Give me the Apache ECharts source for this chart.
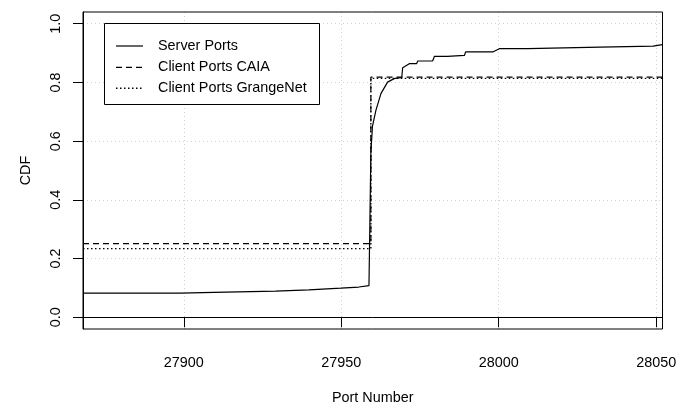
<!DOCTYPE html>
<html>
<head>
<meta charset="utf-8">
<script src="https://cdn.jsdelivr.net/npm/echarts@6/dist/echarts.min.js"></script>
<style>html,body{margin:0;padding:0;background:#fff;}#c{width:691px;height:410px;}</style>
</head>
<body>
<div id="c"></div>
<script>
// ---- data ----
const seriesNames = ['Server Ports', 'Client Ports CAIA', 'Client Ports GrangeNet'];
const xTicks = [27900, 27950, 28000, 28050];
const yTicks = [0, 0.2, 0.4, 0.6, 0.8, 1.0];
const xRange = [27868, 28052];
const yRange = [-0.04, 1.04];
const serverPorts = [
  [27868, 0.082], [27898.9, 0.082], [27899.2, 0.085], [27909.5, 0.085], [27909.8, 0.089],
  [27929.1, 0.089], [27929.4, 0.093], [27939.7, 0.093], [27940.0, 0.099], [27949.8, 0.099],
  [27950.1, 0.103], [27955.6, 0.103], [27955.9, 0.108], [27958.8, 0.108], [27959.1, 0.33],
  [27959.4, 0.56], [27959.9, 0.65], [27961.0, 0.705], [27962.6, 0.762], [27964.7, 0.801],
  [27966.8, 0.813], [27969.2, 0.817], [27969.5, 0.85], [27971.6, 0.864], [27973.9, 0.864],
  [27974.3, 0.873], [27979.0, 0.873], [27979.6, 0.889], [27983.7, 0.889], [27984.0, 0.892],
  [27989.1, 0.892], [27989.5, 0.904], [27998.1, 0.904], [28000.2, 0.915], [28009.2, 0.915],
  [28009.6, 0.920], [28032.2, 0.920], [28032.6, 0.924], [28049.0, 0.924], [28049.4, 0.929],
  [28052, 0.929]
];
const clientCAIA = [[27868, 0.251], [27959.4, 0.251], [27959.4, 0.818], [28052, 0.818]];
const clientGrangeNet = [[27868, 0.234], [27959.4, 0.234], [27959.4, 0.814], [28052, 0.814]];

// ---- chart ----
const FONT = '"Liberation Sans", Arial, sans-serif';
const FS = 14.4;
const chart = echarts.init(document.getElementById('c'), null, {renderer: 'canvas'});
const lineStyles = [
  {color: '#000', width: 1.2, type: 'solid'},
  {color: '#000', width: 1.2, type: [6, 4]},
  {color: '#000', width: 1.4, type: [1.5, 2.5]}
];
const datasets = [serverPorts, clientCAIA, clientGrangeNet];
const legendY = [46, 67.3, 88.3];
const graphics = [{
  type: 'rect', shape: {x: 104.5, y: 23.5, width: 215, height: 81},
  style: {fill: '#fff', stroke: '#000', lineWidth: 1}, z: 100
}];
seriesNames.forEach((n, i) => {
  graphics.push({
    type: 'line', shape: {x1: 116, y1: legendY[i], x2: 143, y2: legendY[i]},
    style: {stroke: '#000', lineWidth: lineStyles[i].width, lineDash: i === 0 ? null : lineStyles[i].type}, z: 101
  });
  graphics.push({
    type: 'text', x: 158, y: legendY[i],
    style: {text: n, font: FS + 'px ' + FONT, fill: '#000', textVerticalAlign: 'middle', textAlign: 'left'}, z: 101
  });
});

chart.setOption({
  animation: false,
  backgroundColor: '#fff',
  grid: {left: 83, right: 28.5, top: 12, bottom: 81, show: true, borderColor: '#000', borderWidth: 1, backgroundColor: 'transparent', z: 10},
  xAxis: {
    type: 'value', min: xRange[0], max: xRange[1], interval: 50,
    name: 'Port Number', nameLocation: 'middle', nameGap: 62,
    nameTextStyle: {fontFamily: FONT, fontSize: FS, color: '#000'},
    axisLine: {show: true, lineStyle: {color: '#000', width: 1}},
    axisTick: {show: true, length: 10, lineStyle: {color: '#000'}, customValues: xTicks},
    axisLabel: {customValues: xTicks, margin: 27, fontFamily: FONT, fontSize: FS, color: '#000', formatter: v => String(v)},
    splitLine: {show: true, lineStyle: {color: '#d0d0d0', type: [1, 3], width: 1}}
  },
  yAxis: {
    type: 'value', min: yRange[0], max: yRange[1], interval: 0.2,
    name: 'CDF', nameLocation: 'middle', nameGap: 50, nameRotate: 90,
    nameTextStyle: {fontFamily: FONT, fontSize: FS, color: '#000'},
    axisLine: {show: true, lineStyle: {color: '#000', width: 1}},
    axisTick: {show: true, length: 10, lineStyle: {color: '#000'}, customValues: yTicks},
    axisLabel: {customValues: yTicks, rotate: 90, margin: 20, fontFamily: FONT, fontSize: FS, color: '#000', formatter: v => v.toFixed(1)},
    splitLine: {show: true, lineStyle: {color: '#d0d0d0', type: [1, 3], width: 1}}
  },
  series: datasets.map((d, i) => ({
    type: 'line', name: seriesNames[i], data: d, showSymbol: false, symbol: 'none',
    lineStyle: lineStyles[i], clip: true, z: 20
  })),
  graphic: graphics
});
</script>
</body>
</html>
